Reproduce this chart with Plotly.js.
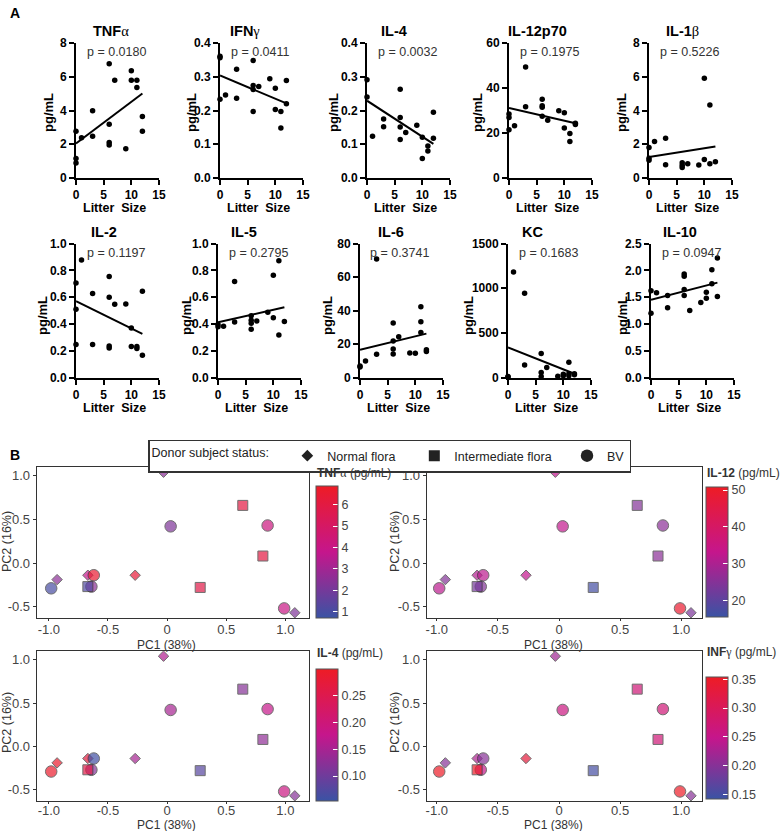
<!DOCTYPE html>
<html><head><meta charset="utf-8">
<script src="https://cdn.plot.ly/plotly-3.0.1.min.js"></script>
<style>html,body{margin:0;padding:0;background:#fff}#chart{width:780px;height:831px}</style>
</head><body><div id="chart"></div>
<script>
// ---------------- Panel A data (Litter size vs cytokine, pg/mL) ----------------
const tnfX   = [0,0,0,1,3,3,6,6,6,6,7,9,10,10,11,11,12,12];
const tnfY   = [2.77,1.15,0.89,2.38,3.98,2.48,6.77,3.19,2.10,1.96,5.80,1.74,6.36,5.80,5.80,5.37,3.64,2.77];
const tnfFit = [2.05,5.01];
const ifnX   = [0,0,0,1,3,3,6,6,6,6,7,9,10,10,11,11,12,12];
const ifnY   = [0.361,0.356,0.233,0.246,0.322,0.236,0.348,0.274,0.262,0.197,0.271,0.294,0.266,0.203,0.197,0.148,0.289,0.220];
const ifnFit = [0.304,0.221];
const il4X   = [0,0,1,3,3,6,6,6,6,7,9,10,10,11,11,12,12];
const il4Y   = [0.291,0.240,0.124,0.175,0.152,0.263,0.179,0.151,0.114,0.135,0.156,0.121,0.058,0.095,0.080,0.195,0.118];
const il4Fit = [0.229,0.101];
const il12X  = [0,0,0,1,3,3,6,6,6,6,7,9,10,10,11,11,12,12];
const il12Y  = [28.4,26.9,21.4,23.2,49.3,31.7,35.0,32.1,31.4,27.4,25.7,29.9,29.0,22.2,19.8,16.2,24.3,23.8];
const il12Fit= [31.1,24.3];
const il1bX  = [0,0,0,1,3,3,6,6,6,7,9,10,10,11,11,12];
const il1bY  = [1.81,1.17,1.05,2.16,2.36,0.79,0.91,0.75,0.62,0.85,0.77,5.91,1.09,4.33,0.85,0.97];
const il1bFit= [1.25,1.87];
const il2X   = [0,0,0,1,3,3,6,6,6,6,7,9,10,10,11,11,12,12];
const il2Y   = [0.706,0.509,0.246,0.877,0.626,0.246,0.753,0.599,0.236,0.221,0.547,0.549,0.370,0.231,0.231,0.216,0.643,0.166];
const il2Fit = [0.569,0.325];
const il5X   = [0,0,1,3,3,6,6,6,6,7,9,10,10,11,11,12];
const il5Y   = [0.395,0.378,0.383,0.716,0.415,0.460,0.427,0.405,0.360,0.422,0.487,0.763,0.445,0.872,0.318,0.417];
const il5Fit = [0.412,0.524];
const il6X   = [0,0,1,3,3,6,6,6,6,7,9,10,11,11,11,12,12];
const il6Y   = [6.9,6.2,9.9,70.7,13.9,32.5,21.8,17.0,14.0,24.3,14.7,14.5,42.2,33.3,26.8,16.5,15.5];
const il6Fit = [16.5,26.2];
const kcX    = [0,0,1,3,3,6,6,6,7,9,10,10,11,11,11,12,12];
const kcY    = [5,12,1181,944,141,270,56,10,111,15,37,20,170,41,20,41,30];
const kcFit  = [337,42];
const il10X  = [0,0,1,3,3,6,6,6,6,7,9,10,10,11,11,12,12];
const il10Y  = [1.62,1.20,1.58,1.53,1.30,1.93,1.89,1.64,1.53,1.25,1.40,1.59,1.48,2.01,1.75,2.23,1.51];
const il10Fit= [1.45,1.77];
const fitX   = [0,12];

const panelNames = ['TNFα','IFNγ','IL-4','IL-12p70','IL-1β','IL-2','IL-5','IL-6','KC','IL-10'];
const pValues    = ['p = 0.0180','p = 0.0411','p = 0.0032','p = 0.1975','p = 0.5226',
                    'p = 0.1197','p = 0.2795','p = 0.3741','p = 0.1683','p = 0.0947'];
const yMax       = [8,0.4,0.4,60,8,1.0,1.0,80,1500,2.5];
const yStep      = [2,0.1,0.1,20,2,0.2,0.2,20,500,0.5];
const yFmt       = ['d','.1f','.1f','d','d','.1f','.1f','d','d','.1f'];
const xTicks     = [0,5,10,15];

// ---------------- Panel B data (PCA) ----------------
const pc1 = [-0.03,0.03,0.64,0.85,0.81,0.28,-0.27,-0.67,-0.62,-0.64,-0.67,-0.93,-0.98,0.99,1.08];
const pc2 = [1.04,0.42,0.66,0.43,0.08,-0.28,-0.14,-0.14,-0.14,-0.27,-0.27,-0.19,-0.29,-0.52,-0.57];
const status = ['Normal flora','BV','Intermediate flora','BV','Intermediate flora','Intermediate flora',
                'Normal flora','Normal flora','BV','BV','Intermediate flora','Normal flora','BV','BV','Normal flora'];
const pcaTNF  = [2.5,2.2,6.0,4.2,6.0,5.8,6.3,3.8,6.5,2.5,1.2,2.5,1.0,4.0,2.2];
const pcaIL12 = [33,33,25,26,26,17,33,31,32,25,23,25,32,49,24];
const pcaIL4  = [0.16,0.15,0.12,0.18,0.13,0.08,0.15,0.27,0.06,0.12,0.26,0.29,0.29,0.19,0.12];
const pcaIFN  = [0.22,0.26,0.27,0.27,0.27,0.15,0.33,0.23,0.20,0.25,0.35,0.20,0.35,0.35,0.20];
const statusLevels = ['Normal flora','Intermediate flora','BV'];
const pcaTitles = ['TNFα','IL-12','IL-4','INFγ'];
const cbTicks = [[1,2,3,4,5,6],[20,30,40,50],[0.10,0.15,0.20,0.25],[0.15,0.20,0.25,0.30,0.35]];
const cbRange = [[0.69,6.86],[15.7,50.9],[0.054,0.30],[0.141,0.3535]];
const pcXTicks = [-1,-0.5,0,0.5,1], pcXText = ['-1.0','-0.5','0','0.5','1.0'];
const pcYTicks = [-0.5,0,0.5,1],   pcYText = ['-0.5','0.0','0.5','1.0'];

// ---------------- helpers ----------------
const W = 780, H = 831;
const FONT = 'Arial, "Liberation Sans", sans-serif';
const px = v => v / W;
const py = v => 1 - v / H;
const symMap  = {'Normal flora':'diamond','Intermediate flora':'square','BV':'circle'};
const sizeMap = {'Normal flora':8,'Intermediate flora':10,'BV':11.5};
const legendPad = {'Normal flora':4,'Intermediate flora':3,'BV':0};
const cscale = [[0,'#3a53a4'],[0.5,'#c5168c'],[1,'#ee1c25']];

const A = [
  [tnfX,tnfY,tnfFit],[ifnX,ifnY,ifnFit],[il4X,il4Y,il4Fit],[il12X,il12Y,il12Fit],[il1bX,il1bY,il1bFit],
  [il2X,il2Y,il2Fit],[il5X,il5Y,il5Fit],[il6X,il6Y,il6Fit],[kcX,kcY,kcFit],[il10X,il10Y,il10Fit]
];
const axStart = [76,220,367,509,649, 76,218,360,508,651];
const titleCx = [111,245,394,537,682, 104,244,391,532,680];
const yTitleOff = [27,28,33,31,27, 33,31,32,39,28];
const rowTop = [43,243.5], rowBot = [178,377.5];
const plotW = 83;

const traces = [], annotations = [], layout = {
  width: W, height: H, margin:{l:0,r:0,t:0,b:0,pad:0,autoexpand:false},
  paper_bgcolor:'#fff', plot_bgcolor:'#fff',
  font:{family:FONT, color:'#111'}, showlegend:true
};

function greek(name){
  const m = name.match(/^(.*?)([αβγ])$/);
  if (m) return '<b>'+m[1]+'</b><span style="font-family:Liberation Serif">'+m[2]+'</span>';
  return '<b>'+name+'</b>';
}

A.forEach((d,i)=>{
  const n = i+1, row = i<5?0:1;
  const xa = 'xaxis'+n, ya = 'yaxis'+n;
  layout[xa] = {domain:[px(axStart[i]), px(axStart[i]+plotW)], range:[0,15], anchor:'y'+n,
    tickvals:xTicks, showline:true, linecolor:'#000', linewidth:2, ticks:'outside', ticklen:5, tickwidth:2,
    tickcolor:'#000', showgrid:false, zeroline:false, tickfont:{family:FONT,size:12,weight:'bold',color:'#000'}};
  layout[ya] = {domain:[py(rowBot[row]), py(rowTop[row])], range:[0,yMax[i]], anchor:'x'+n,
    dtick:yStep[i], tick0:0, tickformat:yFmt[i], showline:true, linecolor:'#000', linewidth:2, ticks:'outside',
    ticklen:5, tickwidth:2, tickcolor:'#000', showgrid:false, zeroline:false,
    tickfont:{family:FONT,size:12,weight:'bold',color:'#000'}};
  traces.push({type:'scatter', mode:'markers', x:d[0], y:d[1], xaxis:'x'+n, yaxis:'y'+n,
    marker:{color:'#000', size:5.5}, cliponaxis:false, showlegend:false, hoverinfo:'skip'});
  traces.push({type:'scatter', mode:'lines', x:fitX, y:d[2], xaxis:'x'+n, yaxis:'y'+n,
    line:{color:'#000', width:2}, cliponaxis:false, showlegend:false, hoverinfo:'skip'});
  const titleY = row===0?31:232;
  annotations.push({xref:'paper',yref:'paper',x:px(titleCx[i]),y:py(titleY),text:greek(panelNames[i]),
    showarrow:false,xanchor:'center',yanchor:'middle',font:{family:FONT,size:14.5,color:'#000'}});
  annotations.push({xref:'paper',yref:'paper',x:px(axStart[i]+40),y:py(row===0?52:252.5),text:pValues[i],
    showarrow:false,xanchor:'center',yanchor:'middle',font:{family:FONT,size:12.5,color:'#333'}});
  annotations.push({xref:'paper',yref:'paper',x:px(axStart[i]-yTitleOff[i]),y:py(row===0?113:316),text:'<b>pg/mL</b>',
    textangle:-90,showarrow:false,xanchor:'center',yanchor:'middle',font:{family:FONT,size:13,color:'#000'}});
  annotations.push({xref:'paper',yref:'paper',x:px(axStart[i]+38),y:py(row===0?207.5:408),text:'<b>Litter  Size</b>',
    showarrow:false,xanchor:'center',yanchor:'middle',font:{family:FONT,size:12.5,color:'#000'}});
});

// panel letters
annotations.push({xref:'paper',yref:'paper',x:px(8),y:py(13),text:'<b>A</b>',showarrow:false,xanchor:'left',yanchor:'middle',font:{family:FONT,size:14,color:'#000'}});
annotations.push({xref:'paper',yref:'paper',x:px(8),y:py(455),text:'<b>B</b>',showarrow:false,xanchor:'left',yanchor:'middle',font:{family:FONT,size:14,color:'#000'}});

// ---------------- Panel B ----------------
const pcaVals = [pcaTNF,pcaIL12,pcaIL4,pcaIFN];
const pcDomX = [[37,309],[427,702],[37,309],[427,702]];
const pcDomY = [[467,618],[467,618],[651,801],[651,801]];
const pcXR   = [[-1.10,1.20],[-1.08,1.17],[-1.10,1.20],[-1.08,1.17]];
const cbX    = [316,706,316,706];
const cbY    = [[486.7,618.3],[486.7,616.7],[669,800.7],[677.3,799.3]];
const cbTitleY = [473,473,653,652];
const pc1Y = [645,645,825,825], pc1X = [166,553,166,553];
const pcStandoff = [-3,-3,-5,-5];
const pc2X = [7,395,7,395], pc2Y = [542,542,723,723];

pcaVals.forEach((vals,k)=>{
  const n = 11+k;
  layout['xaxis'+n] = {domain:[px(pcDomX[k][0]),px(pcDomX[k][1])], range:pcXR[k], anchor:'y'+n,
    tickvals:pcXTicks, ticktext:pcXText, showline:true, mirror:true, linecolor:'#333', linewidth:1.3,
    ticks:'outside', ticklen:2, tickcolor:'#333', showgrid:false, zeroline:false, ticklabelstandoff:pcStandoff[k],
    tickfont:{family:FONT,size:13,color:'#444'}};
  layout['yaxis'+n] = {domain:[py(pcDomY[k][1]),py(pcDomY[k][0])], range:[-0.63,1.10], anchor:'x'+n,
    tickvals:pcYTicks, ticktext:pcYText, showline:true, mirror:true, linecolor:'#333', linewidth:1.3,
    ticks:'outside', ticklen:3, tickcolor:'#333', showgrid:false, zeroline:false,
    tickfont:{family:FONT,size:13,color:'#444'}};
  traces.push({type:'scatter', mode:'markers', x:pc1, y:pc2, xaxis:'x'+n, yaxis:'y'+n, showlegend:false,
    hoverinfo:'skip', cliponaxis:false,
    marker:{symbol:status.map(s=>symMap[s]), size:status.map(s=>sizeMap[s]), color:vals,
      colorscale:cscale, cmin:cbRange[k][0], cmax:cbRange[k][1], line:{color:'#333',width:1},
      showscale:true,
      colorbar:{x:px(cbX[k]), xanchor:'left', y:py(cbY[k][1]), yanchor:'bottom',
        len:(cbY[k][1]-cbY[k][0])/H, lenmode:'fraction', thickness:22, thicknessmode:'pixels',
        xpad:0, ypad:0, outlinewidth:1, outlinecolor:'#555', ticks:'inside', ticklen:5, tickcolor:'#fff',
        tickvals:cbTicks[k], tickformat:k>=2?'.2f':'d', tickfont:{family:FONT,size:12.5,color:'#444'}}}});
  annotations.push({xref:'paper',yref:'paper',x:px(cbX[k]-1),y:py(cbTitleY[k]),
    text:greek(pcaTitles[k])+' (pg/mL)',showarrow:false,xanchor:'left',yanchor:'middle',
    font:{family:FONT,size:12,color:'#333'}});
  annotations.push({xref:'paper',yref:'paper',x:px(pc1X[k]),y:py(pc1Y[k]),text:'PC1 (38%)',
    showarrow:false,xanchor:'center',yanchor:'middle',font:{family:FONT,size:12,color:'#333'}});
  annotations.push({xref:'paper',yref:'paper',x:px(pc2X[k]),y:py(pc2Y[k]),text:'PC2 (16%)',textangle:-90,
    showarrow:false,xanchor:'center',yanchor:'middle',font:{family:FONT,size:12.5,color:'#333'}});
});

// legend-only traces for donor status
statusLevels.forEach(s=>{
  traces.push({type:'scatter', mode:'markers', x:[null], y:[null], xaxis:'x11', yaxis:'y11',
    name:s+'\u00a0'.repeat(legendPad[s]),
    marker:{symbol:symMap[s], size:sizeMap[s]+1, color:'#222'}, showlegend:true, hoverinfo:'skip'});
});
layout.legend = {orientation:'h', x:px(148), y:py(439.5), xanchor:'left', yanchor:'top',
  bordercolor:'#333', borderwidth:1.5, bgcolor:'#fff',
  font:{family:FONT,size:12.5,color:'#222'},
  title:{text:'Donor subject status:'+'\u00a0'.repeat(3), side:'left', font:{family:FONT,size:12.5,color:'#222'}}};

layout.annotations = annotations;
Plotly.newPlot('chart', traces, layout, {staticPlot:true, displayModeBar:false});
</script></body></html>
